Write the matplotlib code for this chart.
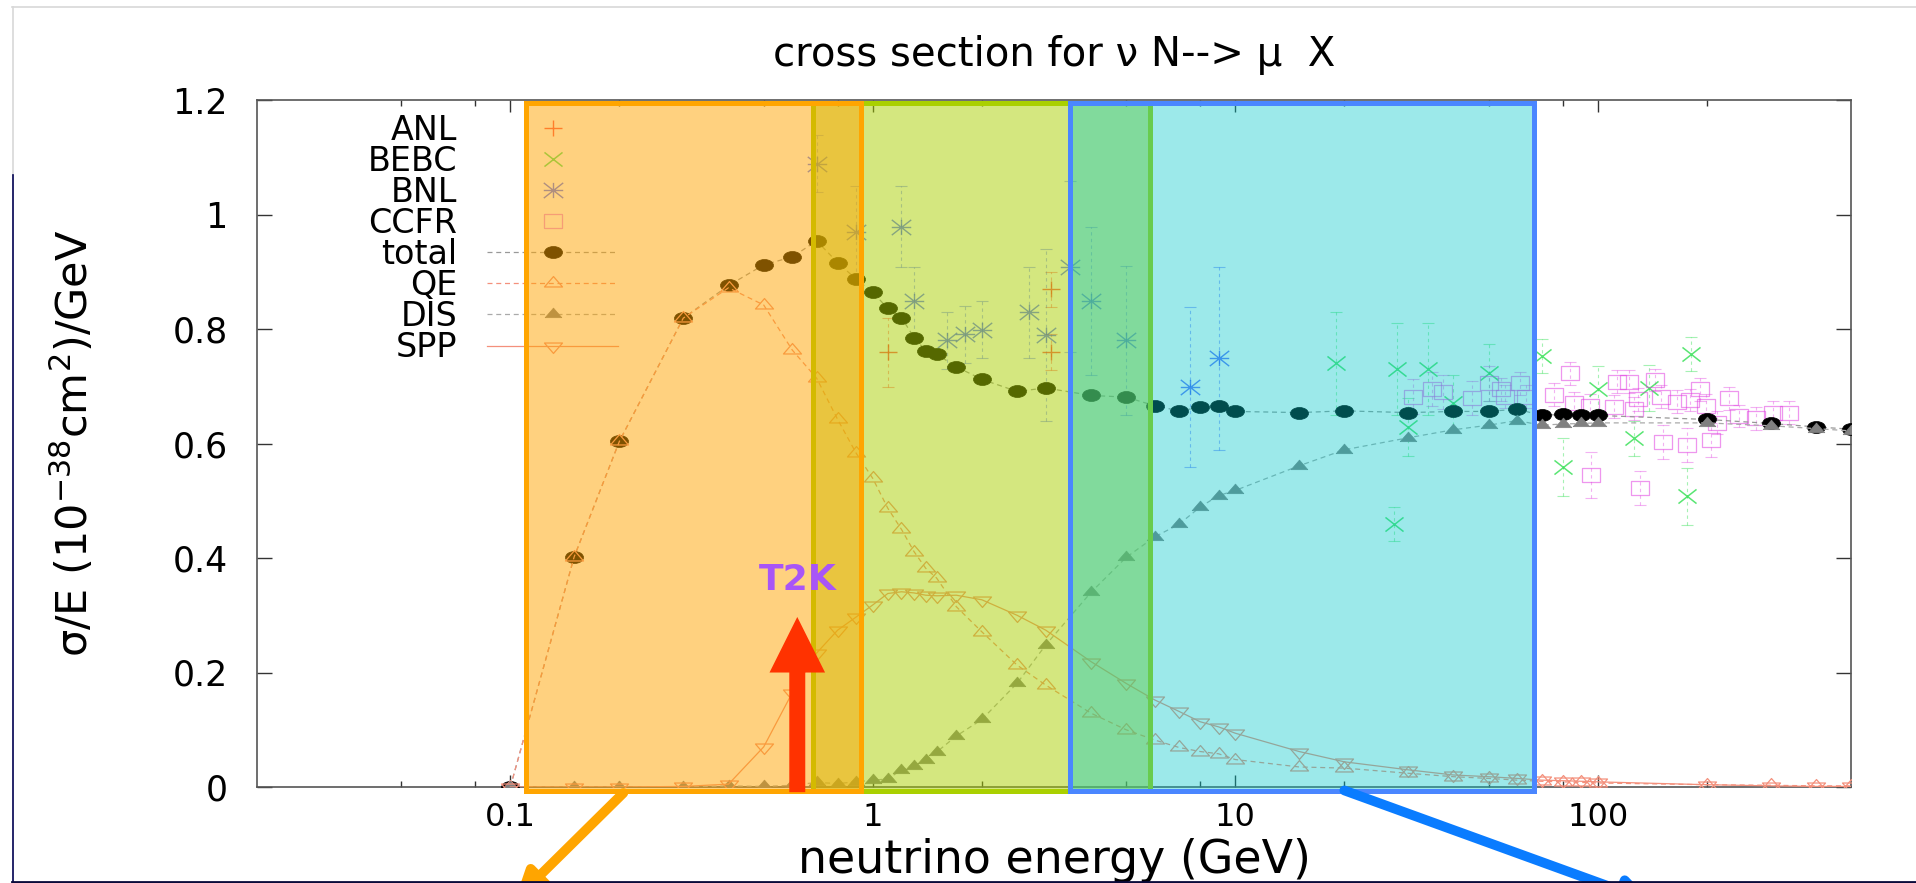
import matplotlib
matplotlib.use("Agg")
import numpy as np
import matplotlib.pyplot as plt
from matplotlib.lines import Line2D
from matplotlib.path import Path
from matplotlib.ticker import NullFormatter

plt.rcParams['font.family'] = ['DejaVu Sans']
plt.rcParams['mathtext.fontset'] = 'dejavusans'

# ---------------- model curves (GeV, 1e-38 cm^2/GeV) ----------------
energy = [0.1, 0.15, 0.2, 0.3, 0.4, 0.5, 0.6, 0.7, 0.8, 0.9,
          1.0, 1.1, 1.2, 1.3, 1.4, 1.5, 1.7, 2.0, 2.5, 3.0,
          4.0, 5.0, 6.0, 7.0, 8.0, 9.0, 10, 15, 20, 30,
          40, 50, 60, 70, 80, 90, 100, 200, 300, 400,
          500]
total = [0.0, 0.402, 0.604, 0.819, 0.876, 0.912, 0.926, 0.954, 0.916, 0.887,
         0.864, 0.836, 0.820, 0.785, 0.762, 0.756, 0.734, 0.712, 0.691, 0.697,
         0.684, 0.681, 0.666, 0.657, 0.663, 0.666, 0.656, 0.654, 0.657, 0.654,
         0.656, 0.656, 0.660, 0.649, 0.651, 0.650, 0.649, 0.642, 0.635, 0.629,
         0.625]
qe = [0.0, 0.402, 0.604, 0.819, 0.872, 0.842, 0.763, 0.714, 0.642, 0.583,
      0.539, 0.487, 0.450, 0.411, 0.382, 0.365, 0.315, 0.271, 0.213, 0.178,
      0.129, 0.100, 0.082, 0.069, 0.062, 0.058, 0.048, 0.035, 0.033, 0.024,
      0.018, 0.015, 0.012, 0.010, 0.009, 0.008, 0.007, 0.004, 0.003, 0.002,
      0.002]
dis = [0.0, 0.0, 0.0, 0.0, 0.002, 0.001, 0.003, 0.008, 0.006, 0.009,
       0.012, 0.014, 0.030, 0.037, 0.047, 0.061, 0.089, 0.118, 0.181, 0.248,
       0.340, 0.401, 0.437, 0.459, 0.489, 0.509, 0.518, 0.561, 0.589, 0.610,
       0.624, 0.632, 0.640, 0.632, 0.634, 0.635, 0.636, 0.636, 0.631, 0.626,
       0.622]
spp = [0.0, 0.0, 0.0, 0.001, 0.005, 0.070, 0.165, 0.234, 0.274, 0.297,
       0.318, 0.338, 0.341, 0.339, 0.335, 0.334, 0.335, 0.327, 0.300, 0.274,
       0.219, 0.181, 0.152, 0.132, 0.114, 0.105, 0.094, 0.062, 0.044, 0.030,
       0.021, 0.018, 0.015, 0.012, 0.011, 0.010, 0.009, 0.004, 0.002, 0.001,
       0.001]

# ---------------- experimental data ----------------
anl_e = [1.1, 3.1, 3.1]
anl_v = [0.759, 0.869, 0.760]
anl_err = [0.06, 0.03, 0.032]

bebc_e = [19, 27.5, 28, 30, 34, 40, 50, 70, 80, 100, 126, 139, 176, 181]
bebc_v = [0.740, 0.459, 0.730, 0.629, 0.730, 0.670, 0.724, 0.753, 0.559, 0.696,
          0.609, 0.697, 0.508, 0.756]
bebc_err = [0.09, 0.03, 0.08, 0.05, 0.08, 0.05, 0.05, 0.03, 0.05, 0.04,
            0.03, 0.04, 0.05, 0.03]

bnl_e = [0.7, 0.9, 1.2, 1.3, 1.6, 1.8, 2.0, 2.7, 3.0, 3.5, 4.0, 5.0, 7.5, 9.0]
bnl_v = [1.089, 0.969, 0.979, 0.849, 0.780, 0.791, 0.799, 0.829, 0.790, 0.909,
         0.849, 0.780, 0.699, 0.749]
bnl_err = [0.05, 0.08, 0.07, 0.06, 0.05, 0.05, 0.05, 0.08, 0.15, 0.15,
           0.13, 0.13, 0.14, 0.16]

ccfr_e = [31, 35, 37.5, 45, 50, 54, 55.5, 61, 63.5, 76,
          84, 86, 95, 96, 111, 113, 122, 126, 129, 131,
          144, 150, 151, 166, 176, 180, 191, 199, 206, 214,
          230, 245, 273, 304, 338]
ccfr_v = [0.682, 0.695, 0.690, 0.679, 0.705, 0.695, 0.682, 0.705, 0.682, 0.685,
          0.723, 0.670, 0.666, 0.545, 0.664, 0.708, 0.708, 0.661, 0.677, 0.522,
          0.711, 0.682, 0.603, 0.673, 0.597, 0.676, 0.695, 0.666, 0.606, 0.636,
          0.679, 0.648, 0.644, 0.654, 0.654]
ccfr_err = [0.03, 0.03, 0.03, 0.03, 0.03, 0.02, 0.02, 0.02, 0.02, 0.02,
            0.02, 0.02, 0.02, 0.04, 0.02, 0.02, 0.02, 0.02, 0.02, 0.03,
            0.02, 0.02, 0.03, 0.02, 0.03, 0.02, 0.02, 0.02, 0.03, 0.02,
            0.02, 0.02, 0.02, 0.02, 0.02]

# ---------------- axis labels / ticks ----------------
xmajor = [0.1, 1, 10, 100]
xmajor_labels = ['0.1', '1', '10', '100']
xminor = [0.05, 0.08, 0.2, 0.5, 0.8, 2, 5, 8, 20, 50, 80, 200]
yticks = [0, 0.2, 0.4, 0.6, 0.8, 1.0, 1.2]
ytick_labels = ['0', '0.2', '0.4', '0.6', '0.8', '1', '1.2']

# highlighted energy bands (GeV)
band_lo = [0.686, 0.1104, 3.49]
band_hi = [5.81, 0.927, 66.8]
band_face = [(170/255, 208/255, 0, 0.5), (1.0, 165/255, 0, 0.5), (0, 200/255, 202/255, 0.39)]
band_edge = ['#AAD000', '#FFA500', '#4A86FF']

t2k_energy = 0.619

# ---------------- wide (gnuplot-like, stretched) marker shapes ----------------
SX = 1.5  # horizontal stretch of the marker glyphs
_c = Path.unit_circle()
m_ellipse = Path(_c.vertices * np.array([SX, 1.0]), _c.codes)
m_tri_up = Path([(0, 1), (-0.866 * SX, -0.5), (0.866 * SX, -0.5), (0, 1)],
                [Path.MOVETO, Path.LINETO, Path.LINETO, Path.CLOSEPOLY])
m_tri_down = Path([(0, -1), (-0.866 * SX, 0.5), (0.866 * SX, 0.5), (0, -1)],
                  [Path.MOVETO, Path.LINETO, Path.LINETO, Path.CLOSEPOLY])
m_square = Path([(-SX * 0.85, -1), (SX * 0.85, -1), (SX * 0.85, 1), (-SX * 0.85, 1), (-SX * 0.85, -1)],
                [Path.MOVETO, Path.LINETO, Path.LINETO, Path.LINETO, Path.CLOSEPOLY])
_M, _L = Path.MOVETO, Path.LINETO
m_cross = Path([(-SX * 0.85, -1), (SX * 0.85, 1), (-SX * 0.85, 1), (SX * 0.85, -1)],
               [_M, _L, _M, _L])
m_plus = Path([(-SX * 0.75, 0), (SX * 0.75, 0), (0, -1), (0, 1)], [_M, _L, _M, _L])
m_star = Path([(-SX * 0.85, -1), (SX * 0.85, 1), (-SX * 0.85, 1), (SX * 0.85, -1),
               (-SX * 0.85, 0), (SX * 0.85, 0), (0, -1), (0, 1)],
              [_M, _L, _M, _L, _M, _L, _M, _L])

W, H = 1916, 883
fig = plt.figure(figsize=(W / 100, H / 100), dpi=100)
ax = fig.add_axes([257 / W, 1 - 787 / H, (1851 - 257) / W, (787 - 100) / H])
ax.set_xscale('log')
ax.set_xlim(0.02, 500)
ax.set_ylim(0, 1.2)

c_anl = '#FF2020'
c_bebc = '#22DD44'
c_bnl = '#2040FF'
c_ccfr = '#E040E0'
c_salmon = '#F4907C'


def ebars(x, y, err, color):
    eb = ax.errorbar(x, y, yerr=err, fmt='none', ecolor=color, elinewidth=0.8,
                     capsize=4, capthick=0.8, alpha=0.4, zorder=2)
    for lc in eb[2]:
        lc.set_linestyle((0, (3, 3)))


ebars(anl_e, anl_v, anl_err, c_anl)
ebars(bebc_e, bebc_v, bebc_err, c_bebc)
ebars(bnl_e, bnl_v, bnl_err, c_bnl)
ebars(ccfr_e, ccfr_v, ccfr_err, c_ccfr)

ax.plot(anl_e, anl_v, ls='none', marker=m_plus, ms=13, mew=1.0, mfc='none', mec=c_anl,
        alpha=0.75, label='ANL', zorder=3)
ax.plot(bebc_e, bebc_v, ls='none', marker=m_cross, ms=13, mew=1.1, mfc='none', mec=c_bebc,
        alpha=0.75, label='BEBC', zorder=3)
ax.plot(bnl_e, bnl_v, ls='none', marker=m_star, ms=14, mew=1.0, mfc='none', mec=c_bnl,
        alpha=0.7, label='BNL', zorder=3)
ax.plot(ccfr_e, ccfr_v, ls='none', marker=m_square, ms=12.5, mew=0.9, mfc='none',
        mec=c_ccfr, alpha=0.55, label='CCFR', zorder=3)

ax.plot(energy, total, ls=(0, (4, 3)), lw=0.9, color='#999999', marker=m_ellipse,
        ms=13, mfc='black', mec='black', mew=0.5, label='total', zorder=4)
ax.plot(energy, qe, ls=(0, (4, 3)), lw=0.9, color=c_salmon, marker=m_tri_up, ms=13,
        mfc='none', mec=c_salmon, mew=0.9, label='QE', zorder=4)
ax.plot(energy, dis, ls=(0, (4, 3)), lw=0.9, color='#AAAAAA', marker=m_tri_up, ms=12,
        mfc='#808080', mec='#808080', mew=0.5, label='DIS', zorder=4)
ax.plot(energy, spp, ls='-', lw=0.9, color=c_salmon, marker=m_tri_down, ms=13,
        mfc='none', mec=c_salmon, mew=0.9, label='SPP', zorder=4)

# ticks
ax.set_xticks(xmajor)
ax.set_xticklabels(xmajor_labels)
ax.set_xticks(xminor, minor=True)
ax.xaxis.set_minor_formatter(NullFormatter())
ax.set_yticks(yticks)
ax.set_yticklabels(ytick_labels)
ax.tick_params(axis='both', which='both', direction='in', top=True, right=True,
               colors='#333333', labelcolor='black')
ax.tick_params(axis='x', which='major', length=8.6, width=1.0, pad=11, labelsize=23)
ax.tick_params(axis='x', which='minor', length=4, width=1.0)
ax.tick_params(axis='y', which='major', length=10.8, width=1.0, pad=21, labelsize=25)
for s in ax.spines.values():
    s.set_color('#555555')
    s.set_linewidth(1.2)

# legend (text to the left of the sample, right-aligned)
leg = ax.legend(loc='upper right', bbox_to_anchor=((618 - 257) / 1594, (787 - 113.5) / 687),
                frameon=False, markerfirst=False, fontsize=24, handlelength=3.93,
                handletextpad=0.9, labelspacing=-0.057, borderpad=0, borderaxespad=0,
                numpoints=1)
leg.set_zorder(5)

# highlighted bands (drawn over the data, translucent)
for i, z in zip(range(3), [10, 11, 12]):
    r = ax.axvspan(band_lo[i], band_hi[i], ymin=-0.0058, ymax=0.995,
                   facecolor=band_face[i], edgecolor=band_edge[i], lw=3.6, zorder=z)
    r.set_clip_on(False)

# T2K arrow and label
ax.annotate('', xy=(t2k_energy, 0.297), xytext=(t2k_energy, -0.009),
            arrowprops=dict(width=11.5, headwidth=40, headlength=40, shrink=0,
                            facecolor='#FF3200', edgecolor='none'),
            annotation_clip=False, zorder=20)
ax.text(t2k_energy, 0.362, 'T2K', color='#A855F7', fontsize=26, fontweight='bold',
        ha='center', va='center', zorder=20)

# slide arrows leaving the bands
ax.annotate('', xy=(515, -17), xycoords='figure pixels', xytext=(0.205, -0.0105),
            textcoords='data',
            arrowprops=dict(arrowstyle='-|>', color='#FFA500', lw=7, mutation_scale=40,
                            shrinkA=0, shrinkB=0),
            annotation_clip=False, zorder=20)
ax.annotate('', xy=(1652, -19), xycoords='figure pixels', xytext=(20.0, -0.006),
            textcoords='data',
            arrowprops=dict(arrowstyle='-|>', color='#0A7CFF', lw=7, mutation_scale=40,
                            shrinkA=0, shrinkB=0),
            annotation_clip=False, zorder=20)

# axis labels and title
ax.set_ylabel('σ/E (10$^{-38}$cm$^{2}$)/GeV', fontsize=31)
ax.yaxis.set_label_coords((97 - 257) / 1594, 0.5)
ax.set_xlabel('neutrino energy (GeV)', fontsize=33)
ax.xaxis.label.set_va('baseline')
ax.xaxis.set_label_coords(0.5, (787 - 873) / 687)
fig.text(1054 / W, 1 - 55 / H, 'cross section for ν N--> μ  X', ha='center',
         va='center', fontsize=29)

# slide frame lines
fig.add_artist(Line2D([12 / W, 1], [1 - 7 / H, 1 - 7 / H], transform=fig.transFigure,
                      color='#D8D8D8', lw=1.2))
fig.add_artist(Line2D([12.5 / W, 12.5 / W], [1 - 7 / H, 1 - 175 / H],
                      transform=fig.transFigure, color='#D8D8D8', lw=1.2))
fig.add_artist(Line2D([12.5 / W, 12.5 / W], [1 - 175 / H, 0], transform=fig.transFigure,
                      color='#000050', lw=1.2))
fig.add_artist(Line2D([12 / W, 1], [1.5 / H, 1.5 / H], transform=fig.transFigure,
                      color='#0A0A3A', lw=2.0))

fig.savefig('out.png', dpi=100)
